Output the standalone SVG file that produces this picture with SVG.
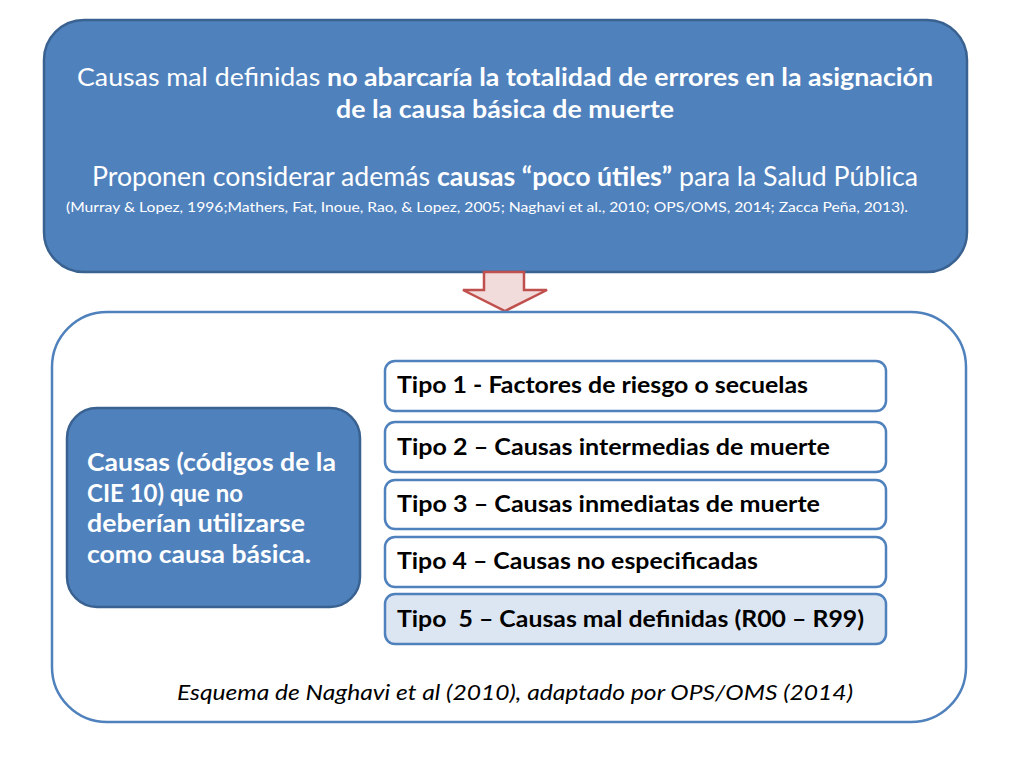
<svg xmlns="http://www.w3.org/2000/svg" width="1024" height="768" viewBox="0 0 1024 768">
<style>
text{font-family:"Lato","Open Sans","Liberation Sans",sans-serif}
.blue{fill:#4F81BD;stroke:#3A6291;stroke-width:2.5}
.type{fill:#FFFFFF;stroke:#4F81BD;stroke-width:2.5}
.w{fill:#FFFFFF}
.b{font-weight:bold}
.tt{font-size:23px;font-weight:bold;fill:#000000}
</style>
<rect width="1024" height="768" fill="#FFFFFF"/>
<g id="top">
<rect class="blue" x="44" y="20" width="923" height="252" rx="40"/>
<text class="w" x="505" y="86" font-size="25" text-anchor="middle" textLength="856" lengthAdjust="spacingAndGlyphs">Causas mal definidas <tspan class="b">no abarcaría la totalidad de errores en la asignación</tspan></text>
<text class="w b" x="505" y="118" font-size="25" text-anchor="middle" textLength="338" lengthAdjust="spacingAndGlyphs">de la causa básica de muerte</text>
<text class="w" x="505" y="186" font-size="27" text-anchor="middle" textLength="826" lengthAdjust="spacingAndGlyphs">Proponen considerar además <tspan class="b">causas “poco útiles”</tspan> para la Salud Pública</text>
<text class="w" x="487" y="212" font-size="14" text-anchor="middle" textLength="842" lengthAdjust="spacingAndGlyphs">(Murray &amp; Lopez, 1996;Mathers, Fat, Inoue, Rao, &amp; Lopez, 2005; Naghavi et al., 2010; OPS/OMS, 2014; Zacca Peña, 2013).</text>
</g>
<g id="connectors">
<path d="M484,272 L524,272 L524,290 L547,290 L505,311 L463,290 L484,290 Z" fill="#F2DCDB" stroke="#C0504D" stroke-width="2.5" stroke-linejoin="miter"/>
</g>
<g id="container">
<rect x="52" y="312" width="914" height="410" rx="55" fill="#FFFFFF" stroke="#4F81BD" stroke-width="2.5"/>
</g>
<g id="left">
<rect class="blue" x="67" y="408" width="293" height="199" rx="30"/>
<text class="w b" font-size="24">
<tspan x="87" y="471" textLength="249" lengthAdjust="spacingAndGlyphs">Causas (códigos de la</tspan>
<tspan x="87" y="502">CIE 10) que no</tspan>
<tspan x="87" y="532" textLength="218" lengthAdjust="spacingAndGlyphs">deberían utilizarse</tspan>
<tspan x="87" y="563" textLength="224" lengthAdjust="spacingAndGlyphs">como causa básica.</tspan>
</text>
</g>
<g id="tipo1">
<rect class="type" x="385" y="361" width="501" height="50" rx="10"/>
<text class="tt" x="397" y="393" textLength="411" lengthAdjust="spacingAndGlyphs">Tipo 1 - Factores de riesgo o secuelas</text>
</g>
<g id="tipo2">
<rect class="type" x="385" y="422" width="501" height="50" rx="10"/>
<text class="tt" x="397" y="455" textLength="433" lengthAdjust="spacingAndGlyphs">Tipo 2 – Causas intermedias de muerte</text>
</g>
<g id="tipo3">
<rect class="type" x="385" y="480" width="501" height="49" rx="10"/>
<text class="tt" x="397" y="512" textLength="423" lengthAdjust="spacingAndGlyphs">Tipo 3 – Causas inmediatas de muerte</text>
</g>
<g id="tipo4">
<rect class="type" x="385" y="537" width="501" height="50" rx="10"/>
<text class="tt" x="397" y="569" textLength="361" lengthAdjust="spacingAndGlyphs">Tipo 4 – Causas no especificadas</text>
</g>
<g id="tipo5">
<rect class="type" x="385" y="594" width="501" height="50" rx="10" style="fill:#DCE6F2"/>
<text class="tt" x="397" y="627" textLength="467" lengthAdjust="spacingAndGlyphs" xml:space="preserve">Tipo  5 – Causas mal definidas (R00 – R99)</text>
</g>
<g id="caption">
<text x="515" y="700" font-size="22" font-style="italic" fill="#000000" text-anchor="middle" textLength="676" lengthAdjust="spacingAndGlyphs">Esquema de Naghavi et al (2010), adaptado por OPS/OMS (2014)</text>
</g>
</svg>
